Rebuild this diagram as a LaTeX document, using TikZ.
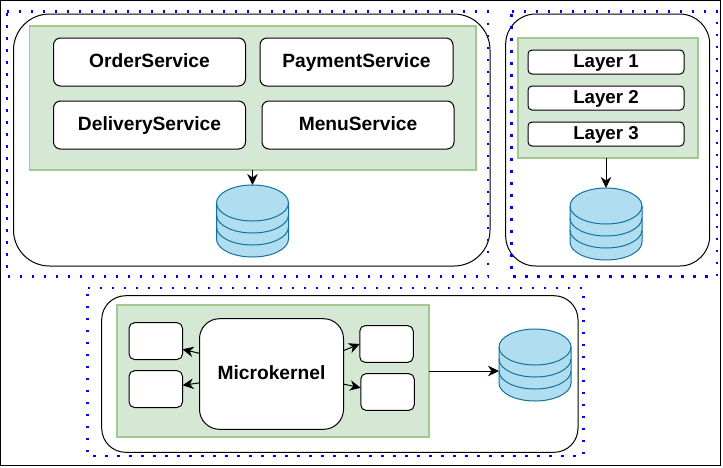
\documentclass[tikz,border=0pt]{standalone}
\usepackage{fontspec}
\setmainfont{Liberation Sans}
\usetikzlibrary{arrows.meta}
\definecolor{grfill}{HTML}{D5E8D4}
\definecolor{grline}{HTML}{A3C78F}
\definecolor{cyfill}{HTML}{B1DDF0}
\definecolor{cyline}{HTML}{10739E}
\tikzset{
  base/.style={draw=black,line width=1pt,fill=white,inner sep=0pt,outer sep=0pt,font=\fontsize{19.2}{22}\selectfont\bfseries,align=center,text height=14pt,text depth=3pt},
  outerbox/.style={base},
  greenbox/.style={draw=grline,line width=1.4pt,fill=grfill,inner sep=0pt,outer sep=0pt},
  svcbox/.style={base,rounded corners=7pt,minimum width=192pt,minimum height=48pt},
  layerbox/.style={base,font=\fontsize{18.7}{22}\selectfont\bfseries,rounded corners=4pt,minimum width=156pt,minimum height=24pt},
  smallbox/.style={base,rounded corners=5.5pt,minimum width=53.5pt,minimum height=36.8pt},
  link/.style={draw=black,line width=1pt,-{Stealth[length=11pt,width=10.5pt,inset=3.5pt]}},
  dotframe/.style={inner sep=0pt,outer sep=0pt},
  dotbox/.style={draw=blue,line width=2.4pt,dash pattern=on 2.4pt off 9.6pt},
  cyl/.style={draw=cyline,line width=1pt,fill=cyfill},
  cylline/.style={draw=cyline,line width=1pt}
}
\newcommand{\dbcyl}[3]{%
  \node[inner sep=0pt,outer sep=0pt,minimum width=72pt,minimum height=72pt] (#1) at (#2,#3) {};
  \begin{scope}[shift={(#2,#3)}]
    \path[cyl] (-36,-18) arc[start angle=180,end angle=0,x radius=36pt,y radius=18pt] -- (36,18)
      arc[start angle=0,end angle=-180,x radius=36pt,y radius=18pt] -- cycle;
    \path[cylline] (-36,-18) arc[start angle=180,end angle=360,x radius=36pt,y radius=18pt];
    \path[cylline] (-36,-6) arc[start angle=180,end angle=360,x radius=36pt,y radius=18pt];
    \path[cylline] (-36,6) arc[start angle=180,end angle=360,x radius=36pt,y radius=18pt];
  \end{scope}
}
\newcommand{\dotrect}[1]{\draw[dotbox] (#1.north west) -- (#1.north east) -- (#1.south east) -- (#1.south west) -- cycle;}
\begin{document}
\begin{tikzpicture}[x=1pt,y=-1pt]
\useasboundingbox (0,0) rectangle (723,467);
\node[draw=black,line width=1pt,inner sep=0pt,minimum width=720pt,minimum height=465pt] (frame) at (360.5,233) {};
% white containers
\node[outerbox,rounded corners=36pt,minimum width=476.5pt,minimum height=252pt] (contA) at (251.75,140) {};
\node[outerbox,rounded corners=30pt,minimum width=204pt,minimum height=252pt] (contB) at (607.7,140) {};
\node[outerbox,rounded corners=24pt,minimum width=476.3pt,minimum height=156.6pt] (contC) at (339.85,374) {};
% green panels
\node[greenbox,minimum width=446.5pt,minimum height=144pt] (greenA) at (252.75,98) {};
\node[greenbox,minimum width=180pt,minimum height=120pt] (greenB) at (608,98) {};
\node[greenbox,minimum width=312pt,minimum height=132pt] (greenC) at (273,371) {};
% services
\node[svcbox] (order) at (149.5,62) {OrderService};
\node[svcbox,minimum width=193pt] (payment) at (356.5,62) {PaymentService};
\node[svcbox] (delivery) at (149.5,125) {DeliveryService};
\node[svcbox] (menu) at (358,125) {MenuService};
% layers
\node[layerbox] (layerA) at (606,62) {Layer 1};
\node[layerbox] (layerB) at (606,98) {Layer 2};
\node[layerbox] (layerC) at (606,134) {Layer 3};
% microkernel
\node[base,rounded corners=20pt,minimum width=144pt,minimum height=110.6pt] (kernel) at (271.5,374) {Microkernel};
\node[smallbox] (plugA) at (155.75,341.1) {};
\node[smallbox] (plugB) at (155.75,389.1) {};
\node[smallbox] (plugC) at (386.5,344) {};
\node[smallbox] (plugD) at (387.5,392) {};
% databases
\dbcyl{dbA}{252.5}{221}
\dbcyl{dbB}{606}{224}
\dbcyl{dbC}{535}{365}
% connectors
\draw[link] (dbA |- greenA.south) -- (dbA.north);
\draw[link] (dbB |- greenB.south) -- (dbB.north);
\draw[link] (greenC.east) -- (greenC.east -| dbC.west);
\draw[link] (kernel.164) -- (plugA.-17);
\draw[link] (kernel.187.4) -- (plugB.8);
\draw[link] (kernel.18.9) -- (plugC.180);
\draw[link] (kernel.-8.9) -- (plugD.171.4);
% dotted frames
\node[dotframe,minimum width=481pt,minimum height=265pt] (dotA) at (247.5,144) {};
\node[dotframe,minimum width=205.5pt,minimum height=265pt] (dotB) at (614.3,144) {};
\node[dotframe,minimum width=496pt,minimum height=168pt] (dotC) at (335.6,372) {};
\dotrect{dotA}
\dotrect{dotB}
\dotrect{dotC}
\end{tikzpicture}
\end{document}
